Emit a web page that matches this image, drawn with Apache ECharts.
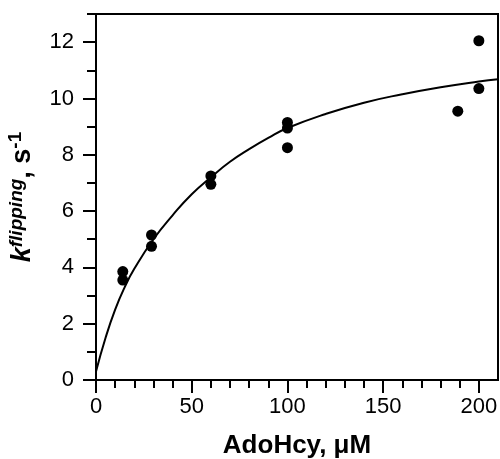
<!DOCTYPE html>
<html>
<head>
<meta charset="utf-8">
<title>kflipping vs AdoHcy</title>
<script src="https://cdn.jsdelivr.net/npm/echarts@6/dist/echarts.min.js"></script>
<style>
  html, body { margin: 0; padding: 0; background: #fff; }
  #main { width: 500px; height: 459px; }
</style>
</head>
<body>
<div id="main"></div>
<script>
// measured points: AdoHcy (uM) and k flipping (s-1)
var concX = [14, 14, 29, 29, 60, 60, 100, 100, 100, 189, 200, 200];
var kObs  = [3.85, 3.55, 5.15, 4.75, 7.25, 6.95, 9.15, 8.95, 8.25, 9.55, 12.05, 10.35];

// fitted curve
var fitX = [0, 5, 10, 15, 20, 30, 40, 50, 60, 70, 80, 90, 100, 120, 140, 160, 180, 200, 210];
var fitY = [0.3, 1.5, 2.5, 3.3, 3.95, 5.0, 5.85, 6.6, 7.2, 7.75, 8.2, 8.6, 8.95, 9.45, 9.85, 10.15, 10.4, 10.6, 10.68];

// ticks
var xMajor = [0, 50, 100, 150, 200];
var xMinor = [10, 20, 30, 40, 60, 70, 80, 90, 110, 120, 130, 140, 160, 170, 180, 190];
var yMajor = [0, 2, 4, 6, 8, 10, 12];
var yMinor = [1, 3, 5, 7, 9, 11, 13];

var font = 'Liberation Sans, Arial, sans-serif';

var points = [];
for (var i = 0; i < concX.length; i++) points.push([concX[i], kObs[i]]);
var curve = [];
for (var j = 0; j < fitX.length; j++) curve.push([fitX[j], fitY[j]]);

var myChart = echarts.init(document.getElementById('main'), null, { renderer: 'canvas' });

var option = {
    animation: false,
    grid: {
        left: 96, right: 2, top: 14, bottom: 79,
        show: true, borderColor: '#000', borderWidth: 2,
        outerBoundsMode: 'none'
    },
    xAxis: [{
        type: 'value', min: 0, max: 210, position: 'bottom',
        name: 'AdoHcy, μM',
        nameLocation: 'middle', nameGap: 53,
        nameTextStyle: { fontFamily: font, fontSize: 26, fontWeight: 'bold', color: '#000' },
        axisLine: { show: true, onZero: false, lineStyle: { color: '#000', width: 2 } },
        axisTick: { show: true, length: 13, customValues: xMajor, lineStyle: { color: '#000', width: 2 } },
        axisLabel: { show: true, customValues: xMajor, margin: 16, fontFamily: font, fontSize: 22, color: '#000' },
        splitLine: { show: false }
    }, {
        type: 'value', min: 0, max: 210, position: 'bottom',
        axisLine: { show: false, onZero: false },
        axisTick: { show: true, length: 8, customValues: xMinor, lineStyle: { color: '#000', width: 2 } },
        axisLabel: { show: false },
        splitLine: { show: false }
    }],
    yAxis: [{
        type: 'value', min: 0, max: 13, position: 'left',
        name: '{k|k}{sup|flipping}{b|, s}{sup2|-1}',
        nameLocation: 'middle', nameGap: 56,
        nameTextStyle: {
            color: '#000',
            rich: {
                k: { fontFamily: font, fontSize: 27, fontWeight: 'bold', fontStyle: 'italic', lineHeight: 34 },
                sup: { fontFamily: font, fontSize: 19, fontWeight: 'bold', fontStyle: 'italic', verticalAlign: 'top', padding: [1, 0, 0, 0] },
                b: { fontFamily: font, fontSize: 27, fontWeight: 'bold', lineHeight: 34 },
                sup2: { fontFamily: font, fontSize: 19, fontWeight: 'bold', verticalAlign: 'top', padding: [0, 0, 0, 0] }
            }
        },
        axisLine: { show: true, onZero: false, lineStyle: { color: '#000', width: 2 } },
        axisTick: { show: true, length: 13, customValues: yMajor, lineStyle: { color: '#000', width: 2 } },
        axisLabel: { show: true, customValues: yMajor, margin: 22, fontFamily: font, fontSize: 22, color: '#000' },
        splitLine: { show: false }
    }, {
        type: 'value', min: 0, max: 13, position: 'left',
        axisLine: { show: false, onZero: false },
        axisTick: { show: true, length: 9, customValues: yMinor, lineStyle: { color: '#000', width: 2 } },
        axisLabel: { show: false },
        splitLine: { show: false }
    }],
    series: [{
        type: 'line',
        data: curve,
        smooth: true,
        showSymbol: false,
        lineStyle: { color: '#000', width: 2 },
        z: 2
    }, {
        type: 'scatter',
        data: points,
        symbol: 'circle',
        symbolSize: 11,
        itemStyle: { color: '#000', opacity: 1 },
        z: 3
    }]
};

myChart.setOption(option);
</script>
</body>
</html>
